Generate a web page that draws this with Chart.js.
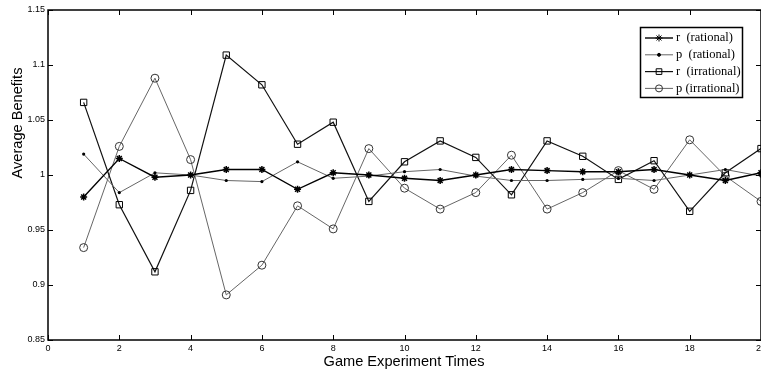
<!DOCTYPE html>
<html>
<head>
<meta charset="utf-8">
<script src="https://cdn.jsdelivr.net/npm/chart.js@4"></script>
<style>
  body { margin: 0; background: #fff; }
  canvas { display: block; }
</style>
</head>
<body>
<canvas id="benefitChart" width="761" height="372"></canvas>
<script>
const games = [1, 2, 3, 4, 5, 6, 7, 8, 9, 10, 11, 12, 13, 14, 15, 16, 17, 18, 19, 20];
const rRational = [0.980, 1.015, 0.998, 1.000, 1.005, 1.005, 0.987, 1.002, 1.000, 0.997, 0.995, 1.000, 1.005, 1.004, 1.003, 1.003, 1.005, 1.000, 0.995, 1.002];
const pRational = [1.019, 0.984, 1.002, 1.000, 0.995, 0.994, 1.012, 0.997, 0.999, 1.003, 1.005, 0.999, 0.995, 0.995, 0.996, 0.997, 0.995, 1.000, 1.005, 0.999];
const rIrrational = [1.066, 0.973, 0.912, 0.986, 1.109, 1.082, 1.028, 1.048, 0.976, 1.012, 1.031, 1.016, 0.982, 1.031, 1.017, 0.996, 1.013, 0.967, 1.002, 1.024];
const pIrrational = [0.934, 1.026, 1.088, 1.014, 0.891, 0.918, 0.972, 0.951, 1.024, 0.988, 0.969, 0.984, 1.018, 0.969, 0.984, 1.004, 0.987, 1.032, 0.999, 0.976];
const seriesNames = ['r  (rational)', 'p  (rational)', 'r  (irrational)', 'p (irrational)'];

function points(values) {
    return games.map((g, i) => ({ x: g, y: values[i] }));
}

// frame, inward ticks, axis titles and the boxed legend (MATLAB look)
const matlabFrame = {
    id: 'matlabFrame',
    afterDraw(chart) {
        const ctx = chart.ctx;
        const a = chart.chartArea;
        const xs = chart.scales.x;
        const ys = chart.scales.y;
        ctx.save();
        ctx.strokeStyle = '#000';
        ctx.lineWidth = 1.5;
        ctx.strokeRect(a.left, a.top, a.right - a.left, a.bottom - a.top);
        ctx.lineWidth = 1;
        ctx.beginPath();
        xs.ticks.forEach(t => {
            const px = Math.round(xs.getPixelForValue(t.value)) + 0.5;
            ctx.moveTo(px, a.bottom); ctx.lineTo(px, a.bottom - 5);
            ctx.moveTo(px, a.top); ctx.lineTo(px, a.top + 5);
        });
        ys.ticks.forEach(t => {
            const py = Math.round(ys.getPixelForValue(t.value)) + 0.5;
            ctx.moveTo(a.left, py); ctx.lineTo(a.left + 5, py);
            ctx.moveTo(a.right, py); ctx.lineTo(a.right - 5, py);
        });
        ctx.stroke();

        // axis titles
        ctx.fillStyle = '#000';
        ctx.font = '14.6px "Liberation Sans", Arial, sans-serif';
        ctx.textAlign = 'center';
        ctx.textBaseline = 'middle';
        ctx.fillText('Game Experiment Times', 404, 362);
        ctx.save();
        ctx.translate(18, 123);
        ctx.rotate(-Math.PI / 2);
        ctx.fillText('Average Benefits', 0, 0);
        ctx.restore();

        // legend box
        const lx = 640, ly = 27, lw = 102, lh = 70;
        ctx.fillStyle = '#fff';
        ctx.fillRect(lx, ly, lw, lh);
        ctx.lineWidth = 1.5;
        ctx.strokeStyle = '#000';
        ctx.strokeRect(lx + 0.5, ly + 0.5, lw, lh);
        ctx.font = '12.5px "Liberation Serif", "Times New Roman", serif';
        ctx.textAlign = 'left';
        chart.data.datasets.forEach((ds, i) => {
            const y = 38 + i * 16.8;
            ctx.strokeStyle = ds.borderColor;
            ctx.lineWidth = ds.borderWidth;
            ctx.beginPath();
            ctx.moveTo(645, y); ctx.lineTo(673, y);
            ctx.stroke();
            ctx.strokeStyle = ds.pointBorderColor;
            ctx.fillStyle = ds.pointBackgroundColor;
            ctx.lineWidth = 1;
            Chart.helpers.drawPoint(ctx, {
                pointStyle: ds.pointStyle,
                radius: ds.legendRadius,
                borderWidth: 1
            }, 659, y);
            ctx.fillStyle = '#000';
            ctx.fillText(ds.label, 676, y);
        });
        ctx.restore();
    }
};

const ctx = document.getElementById('benefitChart').getContext('2d');
new Chart(ctx, {
    type: 'line',
    data: {
        datasets: [{
            label: seriesNames[0],
            data: points(rRational),
            borderColor: '#000',
            borderWidth: 1.4,
            pointStyle: 'star',
            pointRadius: 3.5,
            pointBorderColor: '#000',
            pointBorderWidth: 1.5,
            pointBackgroundColor: '#000',
            legendRadius: 3.5
        }, {
            label: seriesNames[1],
            data: points(pRational),
            borderColor: '#666',
            borderWidth: 1,
            pointStyle: 'circle',
            pointRadius: 1.6,
            pointBorderColor: '#000',
            pointBorderWidth: 0,
            pointBackgroundColor: '#000',
            legendRadius: 1.5
        }, {
            label: seriesNames[2],
            data: points(rIrrational),
            borderColor: '#111',
            borderWidth: 1.2,
            pointStyle: 'rect',
            pointRadius: 4.5,
            pointBorderColor: '#000',
            pointBorderWidth: 1,
            pointBackgroundColor: 'rgba(0,0,0,0)',
            legendRadius: 4
        }, {
            label: seriesNames[3],
            data: points(pIrrational),
            borderColor: '#555',
            borderWidth: 0.9,
            pointStyle: 'circle',
            pointRadius: 4,
            pointBorderColor: '#333',
            pointBorderWidth: 1,
            pointBackgroundColor: 'rgba(0,0,0,0)',
            legendRadius: 3.5
        }]
    },
    options: {
        responsive: false,
        animation: false,
        layout: { autoPadding: false, padding: { top: 10, right: -1, left: 0, bottom: 0 } },
        plugins: {
            legend: { display: false },
            tooltip: { enabled: false }
        },
        elements: { line: { tension: 0 } },
        scales: {
            x: {
                type: 'linear',
                min: 0,
                max: 20,
                grid: { display: false, drawTicks: false },
                border: { display: false },
                ticks: {
                    stepSize: 2,
                    padding: 3,
                    maxRotation: 0,
                    color: '#000',
                    font: { family: '"Liberation Sans", Arial, sans-serif', size: 9 }
                },
                afterFit(scale) {
                    scale.height = 32;
                    scale.paddingLeft = 0;
                    scale.paddingRight = 0;
                }
            },
            y: {
                min: 0.85,
                max: 1.15,
                grid: { display: false, drawTicks: false },
                border: { display: false },
                ticks: {
                    stepSize: 0.05,
                    padding: 3,
                    color: '#000',
                    font: { family: '"Liberation Sans", Arial, sans-serif', size: 9 },
                    callback: v => String(+v.toFixed(2))
                },
                afterFit(scale) {
                    scale.width = 48;
                    scale.paddingTop = 0;
                    scale.paddingBottom = 0;
                }
            }
        }
    },
    plugins: [matlabFrame]
});
</script>
</body>
</html>
